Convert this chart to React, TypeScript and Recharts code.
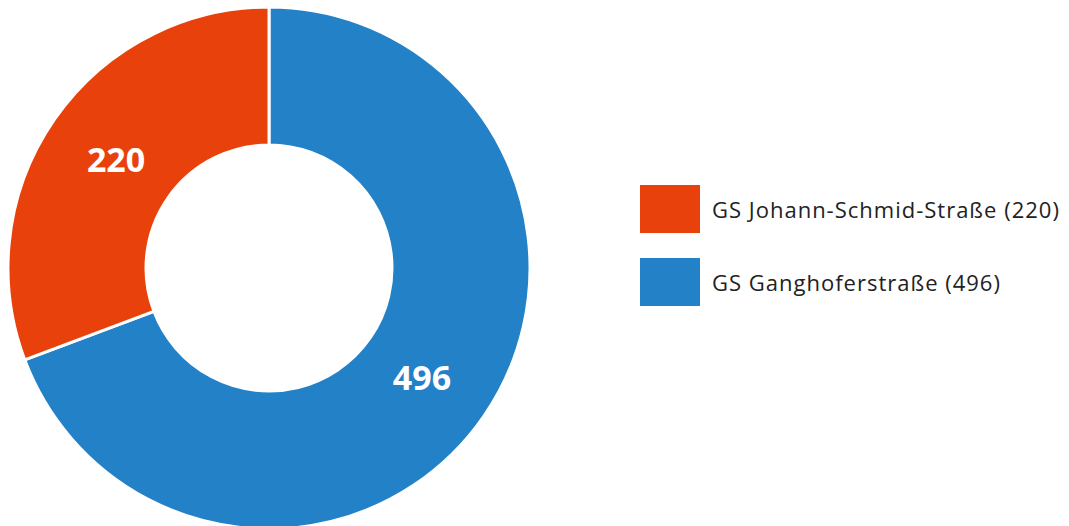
import React from 'react';
import { PieChart, Pie, Cell, Legend } from 'recharts';

const schools = ['GS Ganghoferstraße', 'GS Johann-Schmid-Straße'];
const pupils = [496, 220];
const colors = ['#2381C7', '#E8410C'];

const data = schools.map((name, i) => ({ name, value: pupils[i], color: colors[i] }));
const legendOrder = [1, 0];

const RADIAN = Math.PI / 180;

const renderLabel = (props: any) => {
  const { cx, cy, midAngle, innerRadius, outerRadius, value } = props;
  const r = (innerRadius + outerRadius) / 2 - 6;
  const x = cx + r * Math.cos(-midAngle * RADIAN);
  const y = cy + (r + 6) * Math.sin(-midAngle * RADIAN);
  return (
    <text
      x={x}
      y={y}
      fill="#ffffff"
      textAnchor="middle"
      dominantBaseline="central"
      style={{ fontSize: 34, fontWeight: 700, fontFamily: '"Open Sans", sans-serif' }}
    >
      {value}
    </text>
  );
};

const renderLegend = () => (
  <div style={{ fontFamily: '"Open Sans", sans-serif' }}>
    {legendOrder.map((i) => (
      <div key={schools[i]} style={{ display: 'flex', alignItems: 'center', height: 48, marginBottom: 25 }}>
        <div style={{ width: 60, height: 48, background: colors[i], marginRight: 12 }} />
        <span style={{ fontSize: 22, letterSpacing: 1, color: '#222222' }}>
          {schools[i]} ({pupils[i]})
        </span>
      </div>
    ))}
  </div>
);

export default function App() {
  return (
    <div style={{ position: 'absolute', left: 0, top: 0, width: 1069, height: 526, background: '#fff' }}>
      <PieChart width={1069} height={526} margin={{ top: 0, right: 0, bottom: 0, left: 0 }}>
        <Pie
          data={data}
          dataKey="value"
          nameKey="name"
          cx={269}
          cy={268}
          innerRadius={123}
          outerRadius={261}
          startAngle={90}
          endAngle={-270}
          stroke="#ffffff"
          strokeWidth={3}
          label={renderLabel}
          labelLine={false}
          isAnimationActive={false}
        >
          {data.map((d) => (
            <Cell key={d.name} fill={d.color} />
          ))}
        </Pie>
        <Legend content={renderLegend} wrapperStyle={{ left: 640, top: 185, width: 429 }} />
      </PieChart>
    </div>
  );
}
